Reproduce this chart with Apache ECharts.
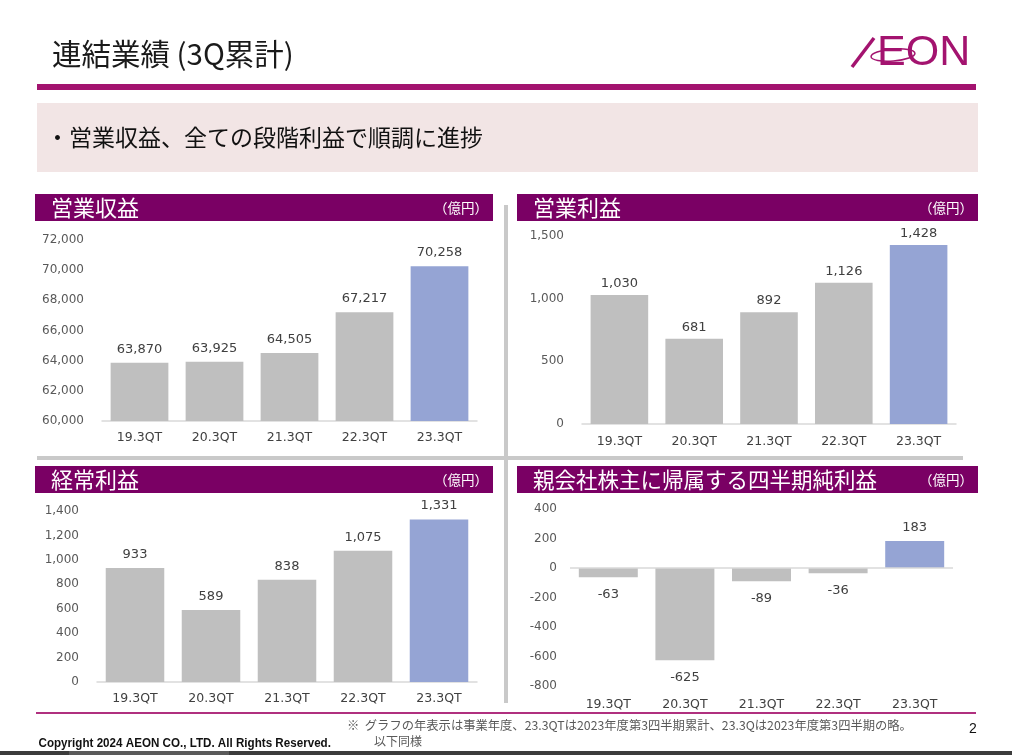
<!DOCTYPE html>
<html><head><meta charset="utf-8">
<script src="https://cdn.jsdelivr.net/npm/echarts@6/dist/echarts.min.js"></script>
<style>html,body{margin:0;padding:0;background:#fff;}#c{width:1012px;height:755px;}</style>
</head><body><div id="c"></div>
<script>
const categories = ['19.3QT','20.3QT','21.3QT','22.3QT','23.3QT'];
const revenue = [63870, 63925, 64505, 67217, 70258];
const operatingIncome = [1030, 681, 892, 1126, 1428];
const ordinaryIncome = [933, 589, 838, 1075, 1331];
const netIncome = [-63, -625, -89, -36, 183];
const panelTitles = ['営業収益', '営業利益', '経常利益', '親会社株主に帰属する四半期純利益'];
const unitLabel = '（億円）';

const GRAY = '#bfbfbf', BLUE = '#95a4d4', PURPLE = '#7a0064', MAGENTA = '#a3136f';
const NUMF = 'DejaVu Sans', JPF = '"Noto Sans CJK JP"';
const fmt = v => Number(v).toLocaleString('en-US');

const grids = [
  {left:102, top:240, width:375, height:181},
  {left:582, top:236, width:374, height:188},
  {left:97,  top:511, width:380, height:171},
  {left:570, top:509, width:383, height:177}
];
const yCfg = [
  {min:60000, max:72000, interval:2000, margin:18},
  {min:0, max:1500, interval:500, margin:18},
  {min:0, max:1400, interval:200, margin:18},
  {min:-800, max:400, interval:200, margin:13}
];
const xMargins = [10, 11, 10, 12];
const seriesData = [revenue, operatingIncome, ordinaryIncome, netIncome];

const option = {
  animation:false,
  grid: grids,
  xAxis: grids.map((g,i)=>({
    type:'category', gridIndex:i, data:categories,
    axisLine:{show:i!==3, onZero:false, lineStyle:{color:'#d9d9d9', width:1.5}},
    axisTick:{show:false},
    axisLabel:{color:'#404040', fontFamily:NUMF, fontSize:12.5, margin:xMargins[i]}
  })),
  yAxis: yCfg.map((y,i)=>({
    type:'value', gridIndex:i, min:y.min, max:y.max, interval:y.interval,
    axisLine:{show:false}, axisTick:{show:false}, splitLine:{show:false},
    axisLabel:{color:'#595959', fontFamily:NUMF, fontSize:12, margin:y.margin, formatter:fmt}
  })),
  series: seriesData.map((arr,i)=>({
    type:'bar', xAxisIndex:i, yAxisIndex:i, barWidth:'77%',
    data: arr.map(v=>({value:v, label:{position: v<0 ? 'bottom' : 'top', distance: v<0 ? 11 : (i===1 ? 5 : 7)}})),
    itemStyle:{color:p=> p.dataIndex===arr.length-1 ? BLUE : GRAY},
    label:{show:true, color:'#404040', fontFamily:NUMF, fontSize:13, formatter:p=>fmt(p.value)},
    markLine: i===3 ? {silent:true, symbol:'none', label:{show:false},
      lineStyle:{color:'#d9d9d9', width:1.5, type:'solid'}, data:[{yAxis:0}]} : undefined
  })),
  graphic: []
};

const G = option.graphic;
// title
G.push({type:'text', left:52, top:39, style:{text:'連結業績 (3Q累計)', font:'29.5px '+JPF, fill:'#1a1a1a'}});
// logo
G.push({type:'line', shape:{x1:852, y1:67, x2:874, y2:38}, style:{stroke:MAGENTA, lineWidth:3.5}});
G.push({type:'text', left:877, top:32, style:{text:'EON', font:'43px "Liberation Sans"', fill:MAGENTA}});
G.push({type:'ellipse', shape:{cx:893, cy:55, rx:22, ry:6}, rotation:0.08, originX:893, originY:55, style:{fill:'none', stroke:MAGENTA, lineWidth:1.5}});
// top rule
G.push({type:'rect', shape:{x:37, y:84, width:939, height:6}, style:{fill:MAGENTA}});
// pink box
G.push({type:'rect', shape:{x:37, y:103, width:941, height:69}, style:{fill:'#f2e5e5'}});
G.push({type:'text', left:46, top:126, style:{text:'・営業収益、全ての段階利益で順調に進捗', font:'23px '+JPF, fill:'#111'}});
// panel headers
const heads = [
  {x:35, y:194, w:458}, {x:517, y:194, w:461},
  {x:35, y:466, w:458}, {x:517, y:466, w:461}
];
heads.forEach((h,i)=>{
  G.push({type:'rect', shape:{x:h.x, y:h.y, width:h.w, height:27}, style:{fill:PURPLE}});
  G.push({type:'text', x:h.x+16, y:h.y+14, style:{text:panelTitles[i], font:(i===3?'21.5px ':'22px ')+JPF, fill:'#fff', verticalAlign:'middle'}});
  G.push({type:'text', x:h.x+h.w-5, y:h.y+14, style:{text:unitLabel, font:'13.5px '+JPF, fill:'#fff', align:'right', verticalAlign:'middle'}});
});
// separators
G.push({type:'rect', shape:{x:504, y:205, width:4, height:498}, style:{fill:'#c9c9c9'}});
G.push({type:'rect', shape:{x:37, y:456, width:926, height:4}, style:{fill:'#c9c9c9'}});
// bottom rule
G.push({type:'rect', shape:{x:36, y:712, width:940, height:2}, style:{fill:'#b0307f'}});
// footer
G.push({type:'text', left:347, top:719, style:{text:'※  グラフの年表示は事業年度、23.3QTは2023年度第3四半期累計、23.3Qは2023年度第3四半期の略。', font:'12.3px '+JPF, fill:'#595959'}});
G.push({type:'text', left:374, top:735, style:{text:'以下同様', font:'12px '+JPF, fill:'#595959'}});
G.push({type:'text', x:36, y:737, scaleX:0.93, originX:36, originY:737, style:{text:'Copyright 2024 AEON CO., LTD. All Rights Reserved.', font:'bold 12.5px "Liberation Sans"', fill:'#111'}});
G.push({type:'text', left:969, top:722, style:{text:'2', font:'14px "Liberation Sans"', fill:'#111'}});
// bottom strip
G.push({type:'rect', shape:{x:0, y:751, width:1012, height:4}, style:{fill:'#3c3c3c'}});
G.push({type:'rect', shape:{x:69, y:751, width:160, height:4}, style:{fill:'#5a5a5a'}});

const chart = echarts.init(document.getElementById('c'));
chart.setOption(option);
</script></body></html>
